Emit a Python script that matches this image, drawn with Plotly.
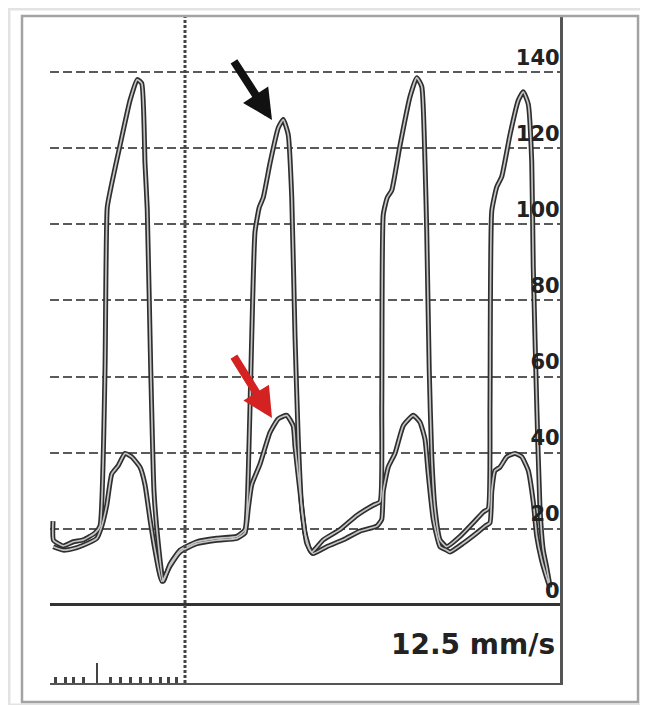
import plotly.graph_objects as go

# Pressure tracing: time (s) vs pressure (mmHg)
t_big = [0.000, 0.004, 0.082, 0.162, 0.242, 0.336, 0.376, 0.416, 0.434, 0.470, 0.536, 0.616, 0.674, 0.710,
         0.736, 0.754, 0.782, 0.808, 0.842, 0.882, 0.936, 1.016, 1.150, 1.310, 1.470, 1.536, 1.562, 1.590,
         1.616, 1.650, 1.682, 1.736, 1.802, 1.842, 1.882, 1.910, 1.936, 1.962, 1.990, 2.030, 2.070, 2.162,
         2.296, 2.430, 2.562, 2.616, 2.630, 2.642, 2.674, 2.710, 2.776, 2.856, 2.910, 2.950, 2.976, 2.990,
         3.010, 3.030, 3.056, 3.096, 3.150, 3.256, 3.362, 3.442, 3.482, 3.496, 3.510, 3.550, 3.590, 3.656,
         3.722, 3.762, 3.802, 3.830, 3.842, 3.870, 3.896, 3.922, 3.950, 3.976]
p_big = [22.0, 17.0, 15.5, 16.6, 17.1, 18.9, 20.7, 61.6, 104.4, 110.7, 120.7, 132.5, 138.0, 137.0,
         116.0, 104.0, 61.6, 29.8, 16.2, 6.2, 10.7, 14.4, 16.6, 17.5, 18.0, 19.8, 34.4, 70.7,
         98.0, 104.4, 107.0, 116.0, 125.3, 127.5, 123.5, 107.0, 70.7, 43.5, 25.3, 16.2, 13.9, 17.1,
         19.8, 23.5, 26.2, 27.1, 52.5, 102.5, 107.0, 108.9, 120.7, 133.5, 138.5, 136.2, 116.2, 98.0,
         61.6, 38.9, 25.3, 17.1, 15.3, 18.0, 21.6, 24.4, 25.3, 52.5, 103.5, 109.8, 112.5, 123.5,
         132.5, 134.8, 131.6, 116.2, 88.9, 52.5, 25.3, 14.4, 9.8, 5.0]

t_small = [0.002, 0.082, 0.162, 0.242, 0.350, 0.390, 0.430, 0.470, 0.522, 0.576, 0.630, 0.696, 0.736,
           0.776, 0.816, 0.870, 0.936, 1.016, 1.150, 1.310, 1.470, 1.536, 1.562, 1.590, 1.656, 1.736,
           1.802, 1.870, 1.922, 1.936, 1.976, 2.016, 2.056, 2.082, 2.190, 2.322, 2.456, 2.590, 2.630,
           2.642, 2.682, 2.736, 2.802, 2.882, 2.936, 2.976, 3.002, 3.042, 3.096, 3.150, 3.176, 3.282,
           3.390, 3.456, 3.496, 3.510, 3.536, 3.576, 3.630, 3.696, 3.750, 3.802, 3.842, 3.870, 3.910,
           3.950, 3.976]
p_small = [15.3, 14.4, 14.8, 15.7, 17.5, 20.7, 26.2, 34.4, 36.6, 39.8, 38.9, 36.2, 31.6,
           22.5, 14.4, 6.2, 10.2, 13.9, 16.1, 17.0, 17.5, 18.9, 25.3, 31.6, 37.0, 45.3,
           48.9, 49.8, 47.0, 41.6, 29.8, 18.9, 14.4, 13.5, 15.3, 17.1, 19.4, 20.7, 22.5,
           29.8, 36.2, 39.8, 47.1, 49.8, 48.0, 43.5, 34.4, 22.5, 15.3, 14.4, 13.9, 16.2,
           18.9, 20.7, 21.6, 29.8, 35.3, 36.2, 38.9, 39.8, 38.9, 35.3, 27.1, 18.0, 11.6,
           7.1, 4.5]

y_ticks = [0, 20, 40, 60, 80, 100, 120, 140]
ruler_major = [0.352]
ruler_minor = [0.016, 0.096, 0.163, 0.243, 0.456, 0.536, 0.616, 0.696, 0.776, 0.856, 0.923, 0.990]
marker_t = 1.056
speed_label = "12.5 mm/s"
# arrow targets (time, pressure)
black_arrow = (1.752, 127.4)
red_arrow = (1.752, 49.1)

X_RANGE = [-0.024, 4.056]
Y_RANGE = [-20.5, 154.7]

fig = go.Figure()
outline = dict(color="#2e2e2e", width=5)
center = dict(color="#c4c4c4", width=1.7)
line_shape = dict(shape="spline", smoothing=0.45)
for t, p in [(t_big, p_big), (t_small, p_small)]:
    fig.add_trace(go.Scatter(x=t, y=p, mode="lines", line={**outline, **line_shape},
                             hoverinfo="skip", showlegend=False))
for t, p in [(t_big, p_big), (t_small, p_small)]:
    fig.add_trace(go.Scatter(x=t, y=p, mode="lines", line={**center, **line_shape},
                             hoverinfo="skip", showlegend=False))

# page has an 8px body margin, so the figure is offset by 8px
fig.update_layout(
    width=648, height=705,
    margin=dict(l=42, r=96, t=8, b=30),
    paper_bgcolor="white", plot_bgcolor="white",
    showlegend=False,
    xaxis=dict(range=X_RANGE, showgrid=False, zeroline=False, showline=True,
               linecolor="#555555", linewidth=2,
               tickmode="array", tickvals=ruler_major, ticks="inside", ticklen=20,
               tickwidth=2, tickcolor="#444444", showticklabels=False,
               minor=dict(tickmode="array", tickvals=ruler_minor, ticks="inside",
                          ticklen=6, tickwidth=3, tickcolor="#444444")),
    yaxis=dict(range=Y_RANGE, side="right", showline=True, linecolor="#555555", linewidth=3,
               tickmode="array", tickvals=y_ticks, ticks="",
               ticklabelposition="inside top",
               tickfont=dict(family="DejaVu Sans", size=21, color="#222222", weight="bold"),
               showgrid=True, gridcolor="#5a5a5a", gridwidth=1.5, griddash="9px,4px",
               zeroline=True, zerolinecolor="#333333", zerolinewidth=2.5),
)

# time-marker line
fig.add_shape(type="line", xref="x", yref="y domain", x0=marker_t, x1=marker_t, y0=0, y1=1,
              line=dict(color="#444444", width=3, dash="3px,2px"))

# picture frames
fig.add_shape(type="rect", xref="paper", yref="paper", x0=-0.0804, x1=1.1686, y0=-0.033, y1=1.0105,
              line=dict(color="#e3e3e3", width=3))
fig.add_shape(type="rect", xref="paper", yref="paper", x0=-0.0549, x1=1.153, y0=-0.0285, y1=1.0,
              line=dict(color="#a3a3a3", width=2.5))

fig.add_annotation(x=black_arrow[0], y=black_arrow[1], ax=-39, ay=-60, text="",
                   showarrow=True, arrowhead=2, arrowsize=0.75, arrowwidth=8, arrowcolor="#111111",
                   standoff=0)
fig.add_annotation(x=red_arrow[0], y=red_arrow[1], ax=-39, ay=-63, text="",
                   showarrow=True, arrowhead=2, arrowsize=0.75, arrowwidth=8, arrowcolor="#d42222",
                   standoff=0)
fig.add_annotation(x=4.032, y=-10.5, xref="x", yref="y", text=speed_label, showarrow=False,
                   xanchor="right", yanchor="middle",
                   font=dict(family="DejaVu Sans", size=28, color="#222222", weight="bold"))

fig.write_html("out.html")
